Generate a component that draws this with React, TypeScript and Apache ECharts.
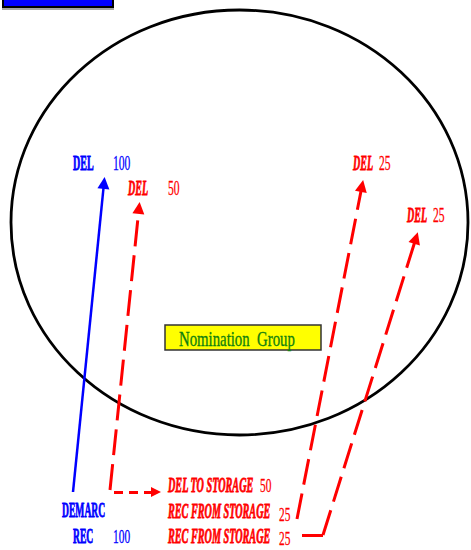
import React, { useEffect, useRef } from "react";
import * as echarts from "echarts";

// ---- diagram content ----
const deliveryLabels = ["DEL", "DEL", "DEL", "DEL"];
const deliveryValues = [100, 50, 25, 25];
const deliveryColors = ["#0000ff", "#ff0000", "#ff0000", "#ff0000"];
const storageLabels = ["DEL TO STORAGE", "REC FROM STORAGE", "REC FROM STORAGE"];
const storageValues = [50, 25, 25];
const demarcLabel = "DEMARC";
const receiptLabel = "REC";
const receiptValue = 100;
const groupName = "Nomination  Group";

// ---- layout (pixel space of the 471x550 canvas) ----
const deliveryLabelPos = [[73, 163], [128, 188], [353, 163], [407, 215]];
const deliveryValuePos = [[113, 163], [168, 188], [379, 163], [433, 215]];
const storageLabelPos = [[168, 485], [168, 511], [168, 536]];
const storageValuePos = [[260, 485], [279, 514], [279, 538]];

const blueFlow = [[[73, 492], [104, 183]]];
const redFlows = [
  [[110, 490], [139, 208]],
  [[297, 519], [362, 186]],
  [[323, 535], [416, 238]],
];
const redShortFlows = [[[114, 492], [156, 492]]];
const redSolidSegments = [[[302, 535], [323, 535]]];

const SERIF = '"Liberation Serif", "Times New Roman", serif';

function txt(
  text: string,
  x: number,
  y: number,
  fill: string,
  font: string,
  scaleX: number,
  heavy = 0
) {
  return {
    type: "text",
    x,
    y,
    scaleX,
    z: 10,
    style: {
      text,
      fill,
      font,
      stroke: heavy ? fill : undefined,
      lineWidth: heavy,
      textAlign: "left",
      align: "left",
      textVerticalAlign: "middle",
      verticalAlign: "middle",
    },
  };
}

export default function App() {
  const ref = useRef<HTMLDivElement>(null);
  useEffect(() => {
    document.body.style.margin = "0";
    const chart = echarts.init(ref.current!, null, { renderer: "svg" });

    const graphics: any[] = [];
    // top blue bar
    graphics.push({
      type: "rect",
      z: 1,
      shape: { x: 3, y: -6, width: 110, height: 13 },
      style: {
        fill: "#0000ff",
        stroke: "#000",
        lineWidth: 2,
        shadowColor: "rgba(0,0,0,0.35)",
        shadowOffsetY: 2,
        shadowBlur: 0,
      },
    });
    // ellipse
    graphics.push({
      type: "ellipse",
      z: 0,
      shape: { cx: 239.5, cy: 222.5, rx: 228.5, ry: 212.5 },
      style: { fill: "none", stroke: "#000", lineWidth: 2.8 },
    });
    // nomination group box
    graphics.push({
      type: "rect",
      z: 5,
      shape: { x: 165, y: 325, width: 156, height: 25 },
      style: { fill: "#ffff00", stroke: "#333", lineWidth: 1.5 },
    });
    graphics.push(txt(groupName, 179, 339, "#0f800f", `20px ${SERIF}`, 0.74, 0.3));

    deliveryLabels.forEach((l, i) => {
      const c = deliveryColors[i];
      const style = i === 0 ? `bold 20px ${SERIF}` : `italic bold 20px ${SERIF}`;
      graphics.push(
        txt(l, deliveryLabelPos[i][0], deliveryLabelPos[i][1], c, style, 0.5, 0.8)
      );
      graphics.push(
        txt(
          String(deliveryValues[i]),
          deliveryValuePos[i][0],
          deliveryValuePos[i][1],
          c,
          `20px ${SERIF}`,
          0.58,
          0.3
        )
      );
    });

    storageLabels.forEach((l, i) => {
      graphics.push(
        txt(
          l,
          storageLabelPos[i][0],
          storageLabelPos[i][1],
          "#ff0000",
          `italic bold 20px ${SERIF}`,
          0.51,
          0.8
        )
      );
      graphics.push(
        txt(
          String(storageValues[i]),
          storageValuePos[i][0],
          storageValuePos[i][1],
          "#ff0000",
          `19px ${SERIF}`,
          0.6,
          0.3
        )
      );
    });

    graphics.push(txt(demarcLabel, 62, 510, "#0000ff", `bold 20px ${SERIF}`, 0.48, 0.8));
    graphics.push(txt(receiptLabel, 73, 536, "#0000ff", `bold 20px ${SERIF}`, 0.48, 0.8));
    graphics.push(
      txt(String(receiptValue), 113, 536, "#0000ff", `19px ${SERIF}`, 0.6, 0.3)
    );

    chart.setOption({
      animation: false,
      grid: { left: 0, right: 0, top: 0, bottom: 0 },
      xAxis: { type: "value", min: 0, max: 471, show: false },
      yAxis: { type: "value", min: 0, max: 550, inverse: true, show: false },
      graphic: { elements: graphics },
      series: [
        {
          type: "lines",
          coordinateSystem: "cartesian2d",
          z: 3,
          symbol: ["none", "triangle"],
          symbolSize: [8, 12],
          lineStyle: { color: "#0000ff", width: 2.5, type: "solid", opacity: 1 },
          data: blueFlow.map((c) => ({ coords: c })),
        },
        {
          type: "lines",
          coordinateSystem: "cartesian2d",
          z: 3,
          symbol: ["none", "triangle"],
          symbolSize: [8, 12],
          lineStyle: { color: "#ff0000", width: 3, type: [26, 9], opacity: 1 },
          data: redFlows.map((c) => ({ coords: c })),
        },
        {
          type: "lines",
          coordinateSystem: "cartesian2d",
          z: 3,
          symbol: ["none", "triangle"],
          symbolSize: [9, 10],
          lineStyle: { color: "#ff0000", width: 3, type: [9, 6], opacity: 1 },
          data: redShortFlows.map((c) => ({ coords: c })),
        },
        {
          type: "lines",
          coordinateSystem: "cartesian2d",
          z: 3,
          symbol: ["none", "none"],
          lineStyle: { color: "#ff0000", width: 3, type: "solid", opacity: 1 },
          data: redSolidSegments.map((c) => ({ coords: c })),
        },
      ],
    });
    return () => chart.dispose();
  }, []);
  return <div ref={ref} style={{ width: 471, height: 550 }} />;
}
